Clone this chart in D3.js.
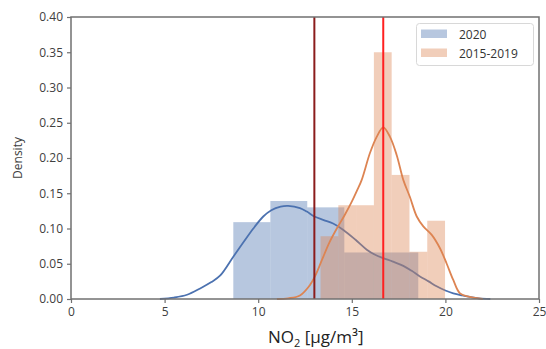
<!DOCTYPE html>
<html><head><meta charset="utf-8">
<script src="https://cdn.jsdelivr.net/npm/d3@7"></script>
<style>body{margin:0;background:#fff}svg{display:block}text{font-family:"Open Sans",sans-serif}</style>
</head><body><svg id="c" width="546" height="349"></svg>
<script>
const xTicks = [0, 5, 10, 15, 20, 25];
const yTicks = [0, 0.05, 0.10, 0.15, 0.20, 0.25, 0.30, 0.35, 0.40];
const seriesNames = ["2020", "2015-2019"];
const blueBinEdges = [8.67, 10.65, 12.62, 14.6, 16.58, 18.55];
const blueDensity = [0.109, 0.139, 0.130, 0.066, 0.066];
const orangeBinEdges = [13.33, 14.28, 15.23, 16.18, 17.13, 18.08, 19.03, 19.98];
const orangeDensity = [0.089, 0.133, 0.133, 0.350, 0.176, 0.067, 0.111];
const blueKdeX = [4.75,5.5,6.2,6.9,7.5,7.96,8.67,9.2,9.74,10.27,10.7,11.2,11.6,12.23,12.6,13.0,13.5,14.0,14.55,15.2,15.8,16.3,16.68,17.2,17.75,18.2,18.64,19.1,19.53,20.0,20.42,20.9,21.3,21.8,22.4];
const blueKdeY = [0,0.002,0.006,0.015,0.024,0.033,0.06,0.08,0.1,0.117,0.126,0.131,0.132,0.129,0.124,0.117,0.112,0.107,0.098,0.084,0.07,0.062,0.058,0.053,0.047,0.04,0.032,0.025,0.018,0.012,0.008,0.005,0.003,0.001,0];
const orangeKdeX = [11.0,11.6,12.23,12.77,13.03,13.4,13.8,14.2,14.6,15.0,15.3,15.53,15.97,16.33,16.68,17.04,17.4,17.75,18.1,18.47,18.82,19.27,19.71,20.07,20.42,20.78,21.3,22.0];
const orangeKdeY = [0,0.001,0.005,0.02,0.032,0.055,0.08,0.1,0.118,0.138,0.155,0.169,0.207,0.23,0.2435,0.23,0.204,0.169,0.145,0.117,0.103,0.091,0.072,0.05,0.027,0.008,0.003,0];
const meanLines = [13.0, 16.68];

const svg = d3.select("#c");
const L = 71, R = 539, T = 17, B = 299;
const x = d3.scaleLinear().domain([0, 25]).range([L, R]);
const y = d3.scaleLinear().domain([0, 0.4]).range([B, T]);
const blue = "#4c72b0", orange = "#dd8452";

function bars(edges, dens, color) {
  svg.append("g").selectAll("rect").data(dens).join("rect")
    .attr("x", (d, i) => x(edges[i]))
    .attr("width", (d, i) => x(edges[i + 1]) - x(edges[i]))
    .attr("y", d => y(d))
    .attr("height", d => y(0) - y(d))
    .attr("fill", color).attr("fill-opacity", 0.4);
}
function kde(xs, ys, color) {
  const line = d3.line().x(d => x(d[0])).y(d => y(d[1])).curve(d3.curveCatmullRom);
  svg.append("path").datum(xs.map((v, i) => [v, ys[i]]))
    .attr("d", line).attr("fill", "none").attr("stroke", color).attr("stroke-width", 1.8);
}
bars(blueBinEdges, blueDensity, blue);
kde(blueKdeX, blueKdeY, blue);
bars(orangeBinEdges, orangeDensity, orange);
kde(orangeKdeX, orangeKdeY, orange);

const lineColors = ["#8b1c1c", "#ff2020"];
svg.append("g").selectAll("line").data(meanLines).join("line")
  .attr("x1", d => x(d)).attr("x2", d => x(d))
  .attr("y1", y(0.4)).attr("y2", y(0))
  .attr("stroke", (d, i) => lineColors[i]).attr("stroke-width", 2);

// axes
const xa = svg.append("g").attr("transform", `translate(0,${B})`)
  .call(d3.axisBottom(x).tickValues(xTicks).tickFormat(d3.format("d")).tickSize(4).tickPadding(4));
const ya = svg.append("g").attr("transform", `translate(${L},0)`)
  .call(d3.axisLeft(y).tickValues(yTicks).tickFormat(d3.format(".2f")).tickSize(4).tickPadding(4));
[xa, ya].forEach(a => {
  a.select(".domain").remove();
  a.selectAll("line").attr("stroke", "#707070").attr("stroke-width", 1.2);
  a.selectAll("text").attr("font-size", 12).attr("fill", "#404040");
});
svg.append("rect").attr("x", L).attr("y", T).attr("width", R - L).attr("height", B - T)
  .attr("fill", "none").attr("stroke", "#707070").attr("stroke-width", 1.5);

svg.append("text").attr("transform", "translate(22,158) rotate(-90)")
  .attr("text-anchor", "middle").attr("font-size", 12).attr("fill", "#404040").text("Density");

const xl = svg.append("text").attr("x", 268).attr("y", 343).attr("font-size", 17).attr("fill", "#222");
xl.append("tspan").text("NO");
xl.append("tspan").attr("font-size", 11).attr("dy", 4).text("2");
xl.append("tspan").attr("dy", -4).text(" [µg/m³]");

// legend
const lg = svg.append("g");
lg.append("rect").attr("x", 416.5).attr("y", 23.5).attr("width", 117).attr("height", 42).attr("rx", 3)
  .attr("fill", "#fff").attr("fill-opacity", 0.8).attr("stroke", "#d8d8d8");
seriesNames.forEach((n, i) => {
  lg.append("rect").attr("x", 421).attr("y", 29.5 + i * 19).attr("width", 26).attr("height", 8.5)
    .attr("fill", i ? orange : blue).attr("fill-opacity", 0.4);
  lg.append("text").attr("x", 459).attr("y", 38.5 + i * 19).attr("font-size", 12).attr("fill", "#333").text(n);
});
</script></body></html>
